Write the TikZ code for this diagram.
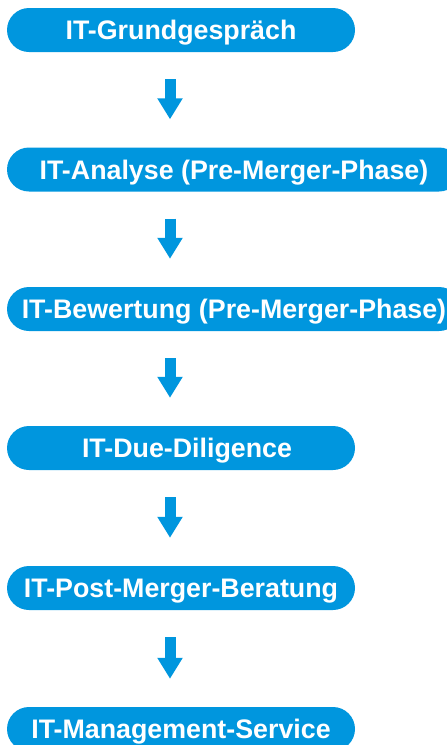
\documentclass[tikz,border=0pt]{standalone}
\usepackage{fontspec}
\setmainfont{Liberation Sans}
\usetikzlibrary{arrows.meta,calc}
\definecolor{itblue}{RGB}{0,150,222}
\begin{document}
\begin{tikzpicture}[x=1pt,y=-1pt,
  pill/.style={fill=itblue, draw=none, rounded corners=22pt, minimum height=44pt,
    inner sep=0pt, text=white, font=\fontsize{26.8}{28}\selectfont\bfseries,
    text height=19.2pt, text depth=0pt},
  blockarrow/.style={draw=itblue, line width=11pt,
    -{Triangle[width=24pt,length=21pt]}}]
\useasboundingbox (0,0) rectangle (447,745);
\coordinate (ax) at (170,0);
\node[pill, minimum width=348pt] (n1) at (181,30) {IT-Grundgespräch};
\node[pill, minimum width=454pt] (n2) at (234,169.5) {IT-Analyse (Pre-Merger-Phase)};
\node[pill, minimum width=454pt] (n3) at (234,309) {IT-Bewertung (Pre-Merger-Phase)};
\node[pill, minimum width=348pt] (n4) at (181,448) {\hspace*{12pt}IT-Due-Diligence};
\node[pill, minimum width=348pt] (n5) at (181,588) {IT-Post-Merger-Beratung};
\node[pill, minimum width=348pt] (n6) at (181,729) {IT-Management-Service};
\foreach \a/\b in {n1/n2,n2/n3,n3/n4,n4/n5,n5/n6}{
  \draw[blockarrow] ($(\a.south -| ax)+(0pt,-27pt)$) -- ($(\b.north -| ax)+(0pt,28pt)$);
}
\end{tikzpicture}
\end{document}
